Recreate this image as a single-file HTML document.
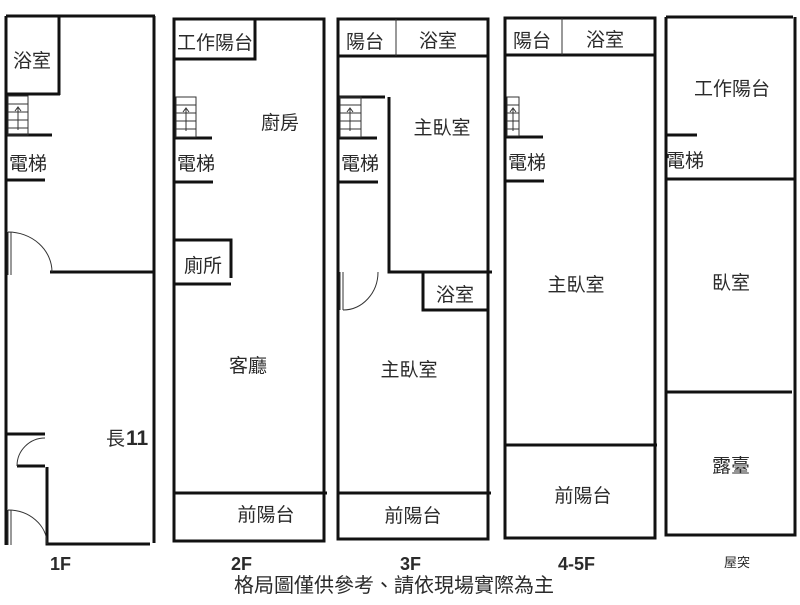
<!DOCTYPE html>
<html><head><meta charset="utf-8"><style>
body{margin:0;background:#fff}
svg text{font-family:"Liberation Sans","Noto Sans CJK TC",sans-serif;fill:#2a2a2a}
</style></head><body>
<svg width="800" height="600" viewBox="0 0 800 600" xmlns="http://www.w3.org/2000/svg">
<g stroke="#111" stroke-width="3" fill="none">
<path d="M6,16 H155 M154,16 V543 M6,16 V545 M150,544 H47 V467 M6,434 H45 M17,466 H45 M59,16 V95 M6,94 H60 M6,135 H52 M6,180 H45 M50,272 H154"/>
<path d="M174,19 H324 V541 H174 Z M174,59 H255 V19 M174,138 H212 M174,182 H213 M174,240 H231 V278 M174,284 H231 M174,493 H327"/>
<path d="M338,19 H488 V539 H338 Z M338,56 H488 M338,97 H385 M338,138 H377 M338,182 H378 M389,97 V272 H492 M423,272 V310 H488 M338,493 H491"/>
<path d="M505,18 H655 V538 H505 Z M505,55 H655 M505,137 H543 M505,181 H544 M505,445 H657"/>
<path d="M666,17 H793 M795,17 V535 H666 V17 M666,135 H697 M666,179 H796 M666,392 H792"/>
</g>
<g stroke="#333" stroke-width="1" fill="none">
<path d="M396,19 V56 M562,18 V55"/>
<path d="M8,232 A44,40 0 0 1 52,272 M8,232 V275 M11,232 V275"/>
<path d="M17,466 A28,28 0 0 1 45,438"/>
<path d="M8,510 A39,34 0 0 1 47,544 M8,510 V545 M11,510 V545"/>
<path d="M343,310 A35,38 0 0 0 378,272 M340,272 V310 M343,272 V310"/>
<rect x="8" y="96" width="20" height="39"/><path d="M8,104H28M8,112H28M8,120H28M8,128H28M18,130V108M15,111L18,107L21,111"/>
<rect x="176" y="97" width="20" height="40"/><path d="M176,105H196M176,113H196M176,121H196M176,129H196M186,131V109M183,112L186,108L189,112"/>
<rect x="340" y="97" width="21" height="40"/><path d="M340,105H361M340,113H361M340,121H361M340,129H361M350,131V109M347,112L350,108L353,112"/>
<rect x="507" y="97" width="12" height="39"/><path d="M507,105H519M507,113H519M507,121H519M507,129H519M513,131V109M510,112L513,108L516,112"/>
</g>
<g font-size="19" text-anchor="middle">
<text x="32" y="67">浴室</text>
<text x="28" y="170">電梯</text>
<text x="215" y="49">工作陽台</text>
<text x="280" y="129">廚房</text>
<text x="196" y="170">電梯</text>
<text x="203" y="272">廁所</text>
<text x="248" y="372">客廳</text>
<text x="266" y="521">前陽台</text>
<text x="365" y="48">陽台</text>
<text x="438" y="47">浴室</text>
<text x="442" y="134">主臥室</text>
<text x="360" y="170">電梯</text>
<text x="455" y="301">浴室</text>
<text x="409" y="376">主臥室</text>
<text x="413" y="522">前陽台</text>
<text x="532" y="47">陽台</text>
<text x="605" y="46">浴室</text>
<text x="527" y="169">電梯</text>
<text x="576" y="291">主臥室</text>
<text x="583" y="502">前陽台</text>
<text x="732" y="95">工作陽台</text>
<text x="685" y="167">電梯</text>
<text x="731" y="289">臥室</text>
<text x="731" y="472">露臺</text>
</g>
<text x="106" y="445" font-size="19">長</text><text x="126" y="445" font-weight="bold" font-size="21">11</text>
<g font-size="18" font-weight="bold" fill="#111">
<text x="50" y="570">1F</text>
<text x="231" y="570">2F</text>
<text x="400" y="570">3F</text>
<text x="558" y="570">4-5F</text>
</g>
<text x="724" y="567" font-size="13">屋突</text>
<text x="394" y="592" font-size="20" text-anchor="middle">格局圖僅供參考、請依現場實際為主</text>
</svg>
</body></html>
